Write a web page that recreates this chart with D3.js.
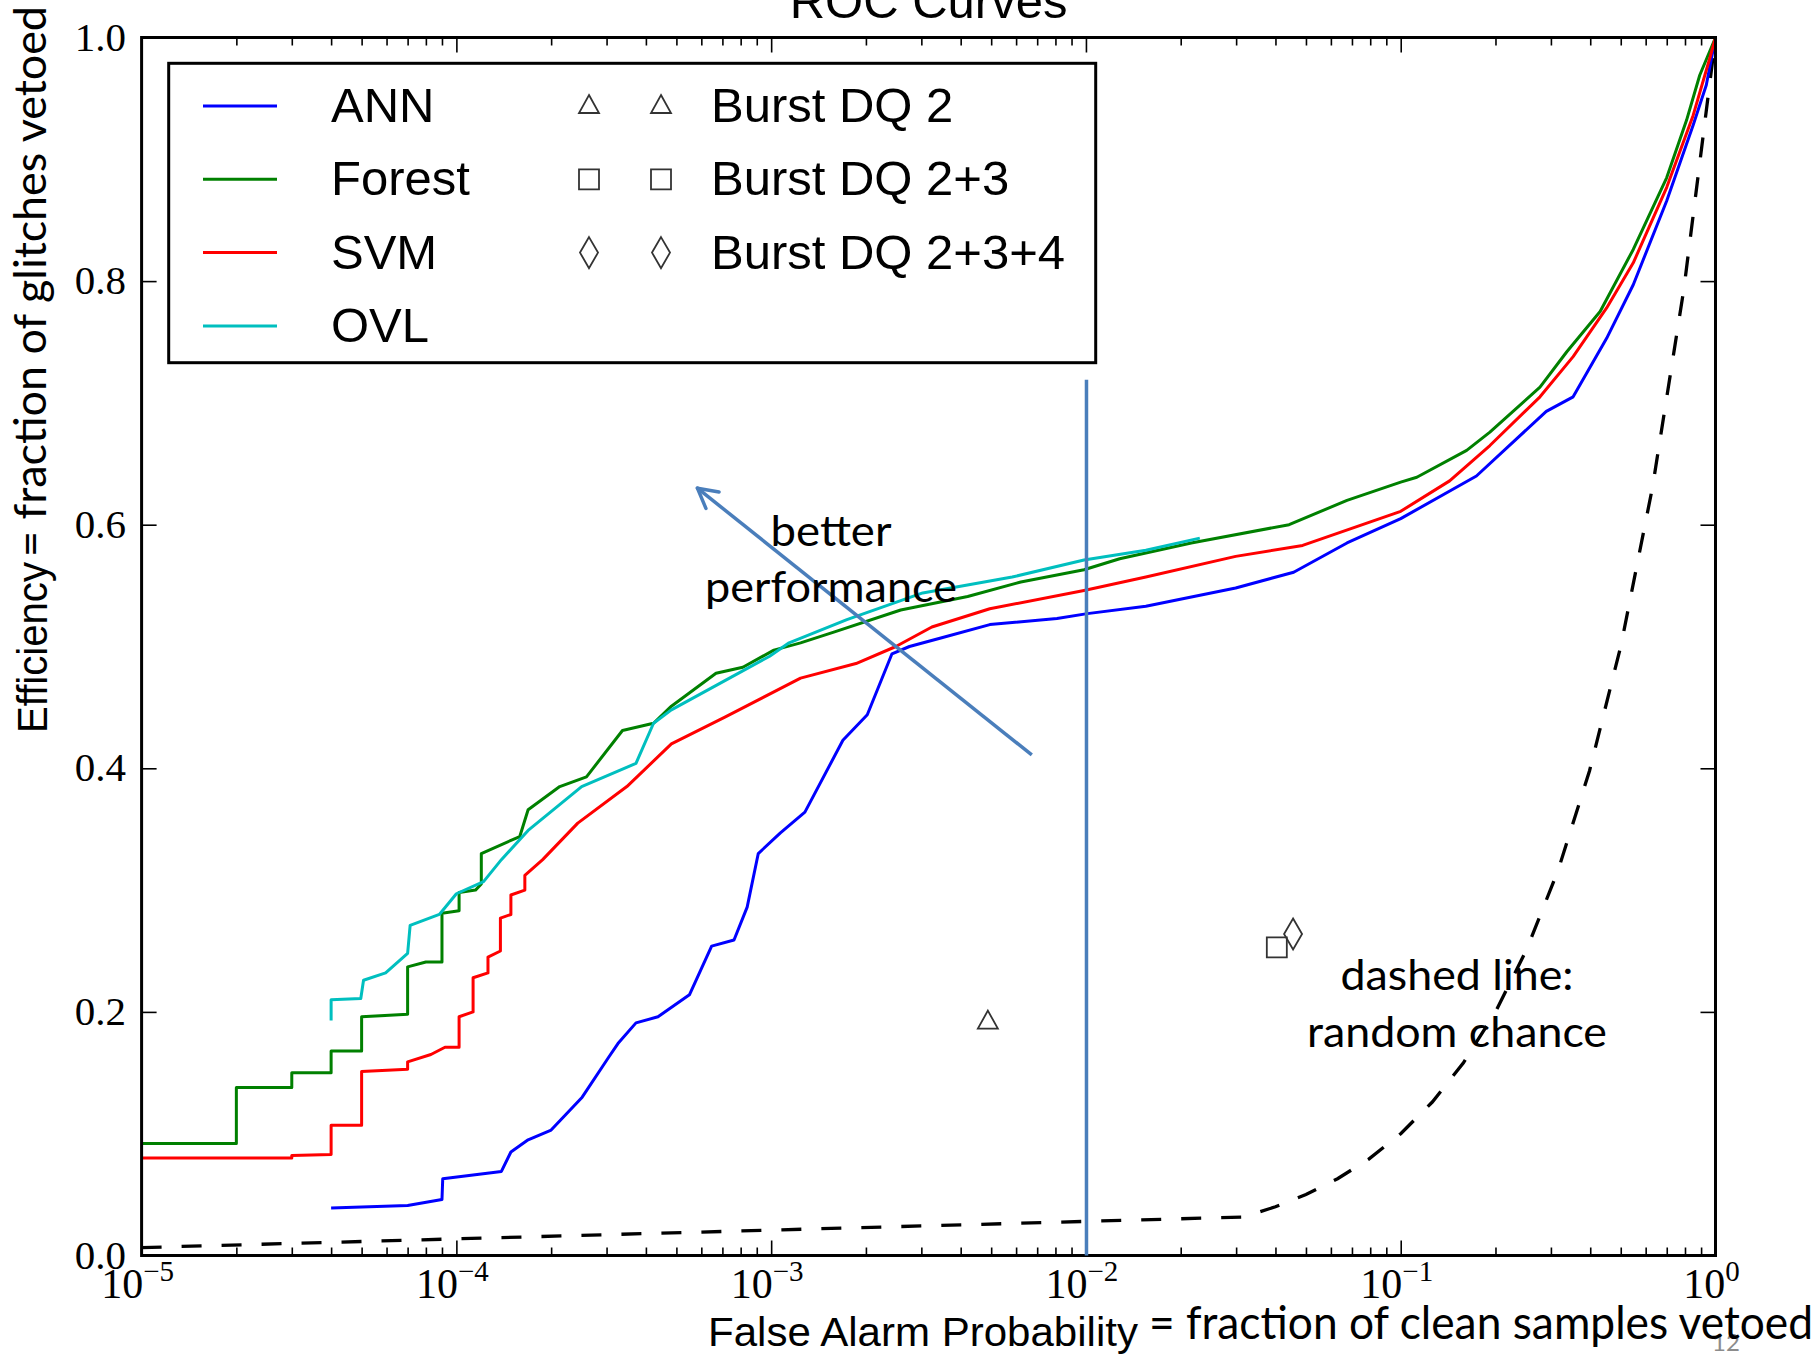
<!DOCTYPE html>
<html>
<head>
<meta charset="utf-8">
<script src="https://cdn.jsdelivr.net/npm/d3@7"></script>
<style>
  html, body { margin: 0; padding: 0; background: #fff; }
  svg { display: block; }
</style>
</head>
<body>
<svg id="chart" width="1820" height="1359"></svg>
<script>
// ROC curves, efficiency vs false alarm probability (log x)
const seriesNames = ['ANN', 'Forest', 'SVM', 'OVL'];
const seriesColors = ['#0000ff', '#008000', '#ff0000', '#00bfbf'];

const annRoc = [
  [4e-5, .039], [7e-5, .041], [9e-5, .046], [9.05e-5, .063], [1.39e-4, .069],
  [1.49e-4, .085], [1.69e-4, .095], [2.0e-4, .103], [2.51e-4, .130], [3.05e-4, .163],
  [3.26e-4, .174], [3.72e-4, .191], [4.37e-4, .196], [5.5e-4, .214], [6.47e-4, .254],
  [7.62e-4, .259], [8.39e-4, .286], [9.1e-4, .330], [1.07e-3, .347], [1.28e-3, .364],
  [1.69e-3, .423], [2.02e-3, .444], [2.42e-3, .494], [2.75e-3, .500], [3.46e-3, .507],
  [4.95e-3, .518], [8.09e-3, .523], [1.01e-2, .527], [1.55e-2, .533], [2.99e-2, .548],
  [4.57e-2, .561], [6.75e-2, .585], [0.1, .605], [0.174, .640], [0.29, .693],
  [0.353, .705], [0.451, .753], [0.548, .797], [0.70, .866], [0.849, .928],
  [0.935, .961], [1, 1]
];

const forestRoc = [
  [1e-5, .092], [2e-5, .092], [2e-5, .138], [3e-5, .138], [3e-5, .150], [4e-5, .150],
  [4e-5, .168], [5e-5, .168], [5e-5, .196], [7e-5, .198], [7e-5, .237], [8e-5, .241],
  [9e-5, .241], [9e-5, .281], [1.02e-4, .283], [1.02e-4, .298], [1.15e-4, .300],
  [1.2e-4, .305], [1.2e-4, .330], [1.59e-4, .344], [1.69e-4, .366], [2.13e-4, .385],
  [2.59e-4, .393], [3.37e-4, .431], [4.23e-4, .437], [4.82e-4, .451], [6.68e-4, .478],
  [8.13e-4, .483], [1.02e-3, .497], [1.24e-3, .503], [1.59e-3, .512], [2.58e-3, .530],
  [4.21e-3, .541], [6.21e-3, .553], [9.86e-3, .563], [1.28e-2, .572], [2.16e-2, .585],
  [4.42e-2, .600], [6.75e-2, .620], [0.1, .635], [0.1125, .639], [0.162, .661],
  [0.192, .676], [0.277, .713], [0.337, .742], [0.43, .775], [0.548, .826],
  [0.70, .885], [0.809, .932], [0.891, .969], [1, 1]
];

const svmRoc = [
  [1e-5, .080], [3e-5, .080], [3e-5, .082], [4e-5, .083], [4e-5, .107], [5e-5, .107],
  [5e-5, .151], [7e-5, .153], [7e-5, .159], [8.3e-5, .165], [9.2e-5, .171], [1.02e-4, .171],
  [1.02e-4, .196], [1.13e-4, .200], [1.13e-4, .228], [1.26e-4, .232], [1.26e-4, .245],
  [1.38e-4, .250], [1.38e-4, .277], [1.49e-4, .280], [1.49e-4, .296], [1.65e-4, .300],
  [1.65e-4, .312], [1.88e-4, .325], [2.43e-4, .355], [3.48e-4, .385], [4.82e-4, .420],
  [7.13e-4, .442], [1.24e-3, .474], [1.86e-3, .486], [2.49e-3, .500], [3.24e-3, .516],
  [4.95e-3, .531], [9.86e-3, .546], [1.55e-2, .557], [2.99e-2, .574], [4.88e-2, .583],
  [0.1, .611], [0.143, .636], [0.192, .665], [0.277, .705], [0.353, .738],
  [0.451, .778], [0.548, .815], [0.70, .877], [0.849, .936], [0.959, .983], [1, 1]
];

const ovlRoc = [
  [4e-5, .193], [4e-5, .210], [4.97e-5, .211], [5.07e-5, .226], [5.96e-5, .232],
  [7.0e-5, .248], [7.13e-5, .271], [8.83e-5, .280], [1.0e-4, .297], [1.22e-4, .307],
  [1.39e-4, .325], [1.69e-4, .349], [2.5e-4, .385], [3.72e-4, .404], [4.23e-4, .437],
  [4.82e-4, .448], [7.13e-4, .472], [9.89e-4, .492], [1.14e-3, .503], [1.74e-3, .522],
  [3.03e-3, .544], [5.83e-3, .557], [9.86e-3, .571], [1.55e-2, .579], [2.3e-2, .589]
];

const chanceRoc = [
  [1e-5, .0065], [0.0316, .0316], [0.04, .04], [0.05, .05], [0.063, .063], [0.079, .079],
  [0.1, .1], [0.126, .126], [0.158, .158], [0.2, .2], [0.251, .251], [0.316, .316],
  [0.398, .398], [0.501, .501], [0.631, .631], [0.794, .794], [1, 1]
];

const burstNames = ['Burst DQ 2', 'Burst DQ 2+3', 'Burst DQ 2+3+4'];
const burstMarkers = ['triangle', 'square', 'diamond'];
const burstFap = [0.00488, 0.0404, 0.0455];
const burstEff = [0.192, 0.253, 0.264];

const xMajorTicks = [1e-5, 1e-4, 1e-3, 1e-2, 1e-1, 1];
const xTickExponents = ['\u22125', '\u22124', '\u22123', '\u22122', '\u22121', '0'];
const yTicks = [0, 0.2, 0.4, 0.6, 0.8, 1.0];

// overlay annotations (data units)
const cutLine = [[0.01004, 0], [0.01004, 0.719]];
const arrowLine = [[6.73e-3, 0.411], [5.83e-4, 0.630]];

const plotLeft = 141.6, plotRight = 1715.5, plotTop = 37.5, plotBottom = 1255.5;
const majorLen = 15, minorLen = 8;

const svg = d3.select('#chart');
const x = d3.scaleLog().domain([1e-5, 1]).range([plotLeft, plotRight]);
const y = d3.scaleLinear().domain([0, 1]).range([plotBottom, plotTop]);

const serif = 'Liberation Serif, Times New Roman, serif';
const sans = 'Liberation Sans, Arial, Helvetica, sans-serif';
const slide = 'Lato, Carlito, Calibri, sans-serif';

// title, partly cut by the top edge
svg.append('text')
  .attr('x', (plotLeft + plotRight) / 2).attr('y', 18)
  .attr('text-anchor', 'middle')
  .attr('font-family', sans).attr('font-size', 49)
  .text('ROC Curves');

svg.append('clipPath').attr('id', 'plot-clip')
  .append('rect')
  .attr('x', plotLeft).attr('y', plotTop - 2)
  .attr('width', plotRight - plotLeft + 2).attr('height', plotBottom - plotTop + 2);

const line = d3.line().x(d => x(d[0])).y(d => y(d[1]));
const plot = svg.append('g').attr('clip-path', 'url(#plot-clip)');

plot.append('path')
  .datum(chanceRoc)
  .attr('d', line)
  .attr('fill', 'none')
  .attr('stroke', '#000')
  .attr('stroke-width', 3.3)
  .attr('stroke-dasharray', '20,20');

[annRoc, forestRoc, svmRoc, ovlRoc].forEach((data, i) => {
  plot.append('path')
    .datum(data)
    .attr('d', line)
    .attr('fill', 'none')
    .attr('stroke', seriesColors[i])
    .attr('stroke-width', 3)
    .attr('stroke-linejoin', 'round');
});

function markerPath(kind) {
  if (kind === 'triangle') return 'M0,-11L10,7L-10,7Z';
  if (kind === 'square') return 'M-10,-10H10V10H-10Z';
  return 'M0,-15.5L9,0L0,15.5L-9,0Z';
}

burstFap.forEach((v, i) => {
  plot.append('path')
    .attr('transform', `translate(${x(v)},${y(burstEff[i])})`)
    .attr('d', markerPath(burstMarkers[i]))
    .attr('fill', 'none')
    .attr('stroke', '#333')
    .attr('stroke-width', 1.8);
});

// ticks, all inward
const allX = x.ticks();
const isMajor = t => Math.abs(Math.log10(t) - Math.round(Math.log10(t))) < 1e-6;
const minorX = allX.filter(t => !isMajor(t));

function styleTicks(g) {
  g.select('.domain').remove();
  g.selectAll('.tick line').attr('stroke', '#000').attr('stroke-width', 1.6);
}

svg.append('g').attr('transform', `translate(0,${plotBottom})`)
  .call(d3.axisBottom(x).tickValues(minorX).tickSize(-minorLen).tickFormat(''))
  .call(styleTicks);
svg.append('g').attr('transform', `translate(0,${plotBottom})`)
  .call(d3.axisBottom(x).tickValues(xMajorTicks).tickSize(-majorLen).tickFormat(''))
  .call(styleTicks);
svg.append('g').attr('transform', `translate(0,${plotTop})`)
  .call(d3.axisTop(x).tickValues(minorX).tickSize(-minorLen).tickFormat(''))
  .call(styleTicks);
svg.append('g').attr('transform', `translate(0,${plotTop})`)
  .call(d3.axisTop(x).tickValues(xMajorTicks).tickSize(-majorLen).tickFormat(''))
  .call(styleTicks);
svg.append('g').attr('transform', `translate(${plotLeft},0)`)
  .call(d3.axisLeft(y).tickValues(yTicks).tickSize(-majorLen).tickFormat(''))
  .call(styleTicks);
svg.append('g').attr('transform', `translate(${plotRight},0)`)
  .call(d3.axisRight(y).tickValues(yTicks).tickSize(-majorLen).tickFormat(''))
  .call(styleTicks);

svg.append('rect')
  .attr('x', plotLeft).attr('y', plotTop)
  .attr('width', plotRight - plotLeft).attr('height', plotBottom - plotTop)
  .attr('fill', 'none').attr('stroke', '#000').attr('stroke-width', 3);

// tick labels
xMajorTicks.forEach((v, i) => {
  const t = svg.append('text')
    .attr('x', x(v) - 4).attr('y', plotBottom + 42)
    .attr('text-anchor', 'middle')
    .attr('font-family', serif).attr('font-size', 42);
  t.append('tspan').text('10');
  t.append('tspan').attr('dy', -17).attr('font-size', 29).text(xTickExponents[i]);
});

svg.selectAll('.ylab')
  .data(yTicks)
  .join('text')
  .attr('class', 'ylab')
  .attr('x', 126).attr('y', d => y(d) + 13)
  .attr('text-anchor', 'end')
  .attr('font-family', serif).attr('font-size', 41)
  .text(d => d3.format('.1f')(d));

// legend
const legend = svg.append('g');
legend.append('rect')
  .attr('x', 168.7).attr('y', 63.3).attr('width', 927).attr('height', 299.4)
  .attr('fill', '#fff').attr('stroke', '#000').attr('stroke-width', 3);

const rowY = d3.scaleLinear().domain([0, 1]).range([106, 179.3]);
seriesNames.forEach((name, i) => {
  legend.append('line')
    .attr('x1', 203).attr('x2', 277).attr('y1', rowY(i)).attr('y2', rowY(i))
    .attr('stroke', seriesColors[i]).attr('stroke-width', 3);
  legend.append('text')
    .attr('x', 331).attr('y', rowY(i) + 16)
    .attr('font-family', sans).attr('font-size', 49)
    .text(name);
});
burstNames.forEach((name, i) => {
  [589, 661].forEach(mx => {
    legend.append('path')
      .attr('transform', `translate(${mx},${rowY(i)})`)
      .attr('d', markerPath(burstMarkers[i]))
      .attr('fill', 'none').attr('stroke', '#333').attr('stroke-width', 1.8);
  });
  legend.append('text')
    .attr('x', 711).attr('y', rowY(i) + 16)
    .attr('font-family', sans).attr('font-size', 49)
    .text(name);
});

// axis labels (matplotlib part + slide overlay part)
svg.append('text')
  .attr('transform', 'translate(47,733) rotate(-90)')
  .attr('font-family', sans).attr('font-size', 43)
  .attr('textLength', 171).attr('lengthAdjust', 'spacingAndGlyphs')
  .text('Efficiency');
svg.append('text')
  .attr('transform', 'translate(46,557) rotate(-90)')
  .attr('font-family', slide).attr('font-size', 45)
  .attr('textLength', 551).attr('lengthAdjust', 'spacingAndGlyphs')
  .text('= fraction of glitches vetoed');

svg.append('text')
  .attr('x', 1712).attr('y', 1351)
  .attr('font-family', slide).attr('font-size', 24).attr('fill', '#8c8c8c')
  .text('12');

svg.append('text')
  .attr('x', 708).attr('y', 1346)
  .attr('font-family', sans).attr('font-size', 41)
  .attr('textLength', 430).attr('lengthAdjust', 'spacingAndGlyphs')
  .text('False Alarm Probability');
svg.append('text')
  .attr('x', 1149).attr('y', 1339)
  .attr('font-family', slide).attr('font-size', 46)
  .attr('textLength', 664).attr('lengthAdjust', 'spacingAndGlyphs')
  .text('= fraction of clean samples vetoed');

// slide annotations
const annColor = '#4a7ebb';
svg.append('line')
  .attr('x1', x(cutLine[0][0])).attr('y1', y(cutLine[0][1]))
  .attr('x2', x(cutLine[1][0])).attr('y2', y(cutLine[1][1]))
  .attr('stroke', annColor).attr('stroke-width', 3.5);

const a0 = [x(arrowLine[0][0]), y(arrowLine[0][1])];
const a1 = [x(arrowLine[1][0]), y(arrowLine[1][1])];
svg.append('line')
  .attr('x1', a0[0]).attr('y1', a0[1]).attr('x2', a1[0]).attr('y2', a1[1])
  .attr('stroke', annColor).attr('stroke-width', 3.5);
const ang = Math.atan2(a1[1] - a0[1], a1[0] - a0[0]);
[-0.5, 0.5].forEach(da => {
  svg.append('line')
    .attr('x1', a1[0]).attr('y1', a1[1])
    .attr('x2', a1[0] - 22 * Math.cos(ang + da)).attr('y2', a1[1] - 22 * Math.sin(ang + da))
    .attr('stroke', annColor).attr('stroke-width', 3.5).attr('stroke-linecap', 'round');
});

const notes = [
  { text: 'better', x: 831, y: 546, len: 121 },
  { text: 'performance', x: 831, y: 602, len: 252 },
  { text: 'dashed line:', x: 1457, y: 990, len: 233 },
  { text: 'random chance', x: 1457, y: 1047, len: 300 }
];
notes.forEach(n => {
  svg.append('text')
    .attr('x', n.x - n.len / 2).attr('y', n.y)
    .attr('font-family', slide).attr('font-size', 43)
    .attr('textLength', n.len).attr('lengthAdjust', 'spacingAndGlyphs')
    .text(n.text);
});
</script>
</body>
</html>
